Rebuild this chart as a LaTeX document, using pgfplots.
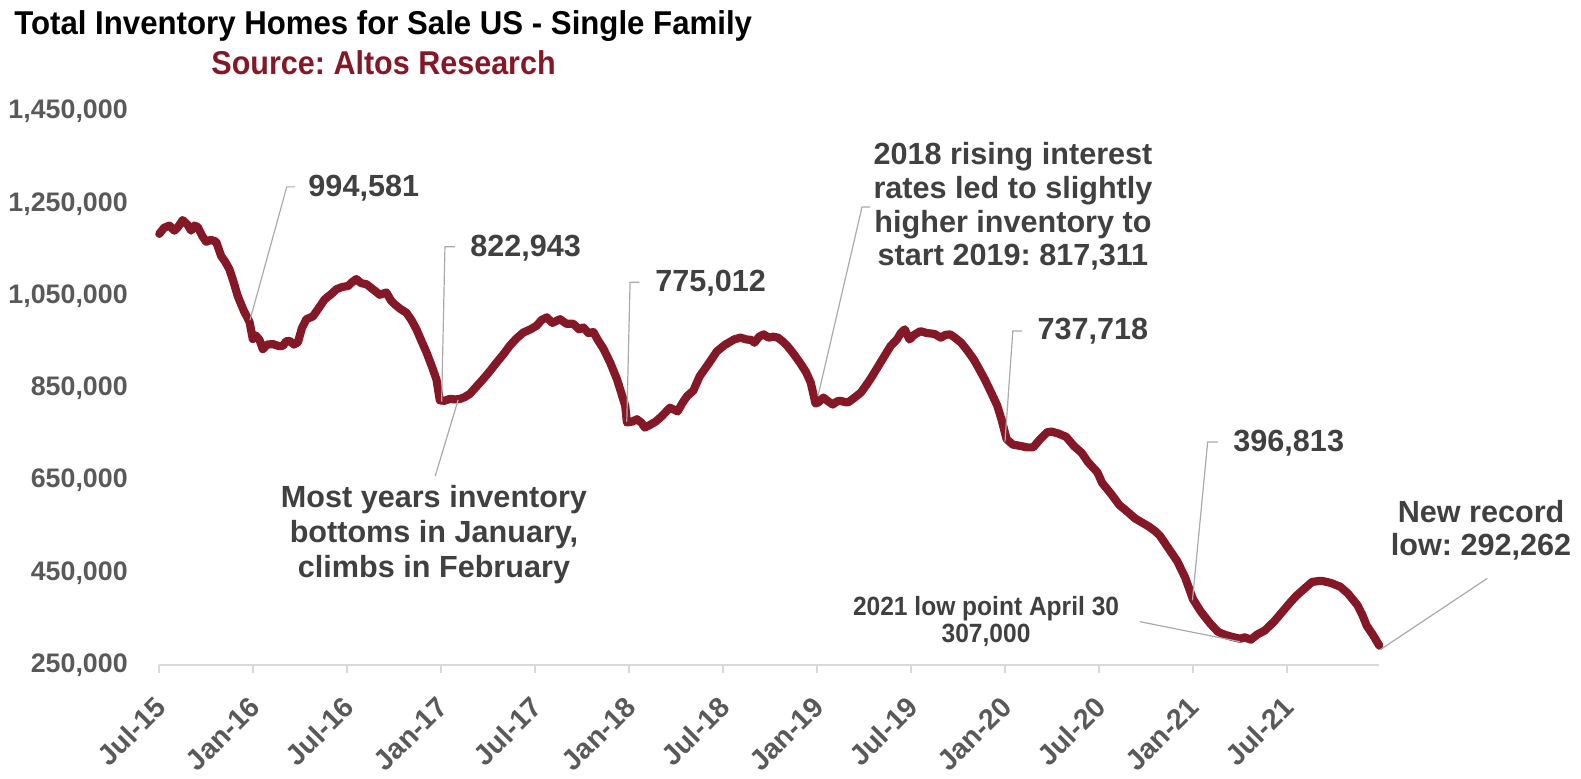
\documentclass[border=0pt]{standalone}
\usepackage{pgfplots}
\usepackage{pgfplotstable}
\pgfplotsset{compat=1.18}
\usepackage{fontspec}
\setmainfont{Liberation Sans}
\newfontfamily\titlefont[FakeStretch=0.945]{Liberation Sans Bold}
\newfontfamily\subfont[FakeStretch=0.925]{Liberation Sans Bold}
\newfontfamily\annfont{Liberation Sans Bold}
\newfontfamily\condfont[FakeStretch=0.93]{Liberation Sans Bold}
\newfontfamily\tickfont{Liberation Sans Bold}
\definecolor{inv}{RGB}{132,24,38}
\definecolor{annot}{RGB}{64,64,64}
\definecolor{tickc}{RGB}{89,89,89}
\definecolor{leader}{RGB}{170,170,170}
\definecolor{axisgray}{RGB}{217,217,217}
\tikzset{
  annot/.style={font=\annfont\fontsize{15.3}{16.85}\selectfont, text=annot, inner sep=0pt},
  lead/.style={draw=leader, line width=0.6pt},
}
\frenchspacing

% m = months since Jul 2015, v = homes for sale (thousands)
\pgfplotstableread{
m v
0.0 1185
0.3 1198
0.64 1203
0.96 1192
1.2 1200
1.49 1215
1.8 1205
2.03 1192
2.25 1203
2.45 1200
2.75 1180
2.99 1168
3.3 1172
3.63 1168
3.95 1137
4.2 1125
4.48 1108
4.75 1080
5.01 1050
5.4 1018
5.76 994
5.97 957
6.15 965
6.40 955
6.61 935
6.9 945
7.25 946
7.6 942
7.89 942
8.1 952
8.32 953
8.6 945
8.85 950
9.1 980
9.39 1000
9.81 1006
10.2 1025
10.56 1043
11.0 1055
11.31 1065
11.7 1070
12.05 1072
12.3 1080
12.58 1087
12.9 1078
13.22 1076
13.6 1066
14.08 1053
14.5 1058
14.8 1040
15.04 1032
15.4 1022
15.78 1014
16.1 998
16.42 978
16.75 952
17.06 928
17.4 898
17.7 869
17.91 824
18.2 823
18.55 827
18.9 826
19.19 827
19.5 831
19.83 838
20.2 852
20.68 870
21.1 887
21.54 906
22.0 925
22.39 943
22.8 958
23.24 971
23.7 978
24.1 986
24.4 998
24.74 1004
25.1 992
25.59 1000
26.0 990
26.44 990
26.8 978
27.08 982
27.4 970
27.72 972
28.0 955
28.36 936
28.8 905
29.22 870
29.5 840
29.75 812
29.86 776
30.2 778
30.5 783
30.8 775
31.0 765
31.3 770
31.7 778
32.1 790
32.6 808
33.1 800
33.4 818
33.7 833
34.1 845
34.5 876
35.0 900
35.6 930
36.1 944
36.7 956
37.1 960
37.5 956
37.8 955
38.0 949
38.3 962
38.6 967
38.9 960
39.2 962
39.5 960
39.8 952
40.1 942
40.5 925
40.9 906
41.3 885
41.6 862
41.9 817
42.1 820
42.4 830
42.7 822
43.0 815
43.3 822
43.5 823
43.8 820
44.0 820
44.4 830
44.8 841
45.1 855
45.4 870
45.8 892
46.3 920
46.7 942
47.1 956
47.35 970
47.6 978
47.9 956
48.2 966
48.6 974
49.0 970
49.5 968
49.9 960
50.2 966
50.5 967
50.8 960
51.2 949
51.6 932
52.0 913
52.3 895
52.7 870
53.1 842
53.5 813
53.8 780
54.1 740
54.5 728
55.0 725
55.4 722
55.8 722
56.2 738
56.7 755
57.0 756
57.4 752
57.9 745
58.4 725
58.9 710
59.3 690
59.9 668
60.2 645
60.8 620
61.3 597
61.8 583
62.3 568
62.8 558
63.2 550
63.6 540
63.9 530
64.4 505
65.0 475
65.5 440
66.0 393
66.5 366
67.1 340
67.6 322
68.0 316
68.5 311
69.0 307
69.3 310
69.7 305
70.1 316
70.6 325
71.2 345
71.7 365
72.2 385
72.6 400
73.1 415
73.6 430
74.0 432
74.3 432
74.8 428
75.4 420
75.9 405
76.5 380
76.8 360
77.1 335
77.5 315
77.9 292
}\invdata

\begin{document}
\begin{tikzpicture}
\path[use as bounding box] (0,0) rectangle (790.5pt,389pt);
\node[anchor=base west, inner sep=0, font=\titlefont\fontsize{16.5}{20}\selectfont, text=black] at (7pt,371.5pt) {Total Inventory Homes for Sale US - Single Family};
\node[anchor=base west, inner sep=0, font=\subfont\fontsize{16.5}{20}\selectfont, text=inv] at (105.5pt,351.5pt) {Source: Altos Research};
\begin{axis}[
  at={(79.65pt,56.5pt)}, anchor=south west,
  scale only axis, width=610pt, height=276.65pt,
  xmin=0, xmax=77.9, ymin=250, ymax=1450,
  clip=false,
  axis x line*=bottom, axis y line*=left,
  x axis line style={draw=axisgray, line width=1pt},
  y axis line style={draw=none},
  xtick={0,6,...,72},
  xticklabels={Jul-15,Jan-16,Jul-16,Jan-17,Jul-17,Jan-18,Jul-18,Jan-19,Jul-19,Jan-20,Jul-20,Jan-21,Jul-21},
  ytick={250,450,650,850,1050,1250,1450},
  yticklabels={{250,000},{450,000},{650,000},{850,000},{1,050,000},{1,250,000},{1,450,000}},
  tick align=outside,
  major tick length=4pt,
  xtick style={draw=axisgray, line width=1pt},
  ytick style={draw=none},
  ticklabel style={font=\tickfont\fontsize{13.4}{16}\selectfont, text=tickc},
  yticklabel style={anchor=east, inner sep=0pt, xshift=-11.6pt},
  xticklabel style={font=\tickfont\fontsize{14.2}{16}\selectfont, inner sep=0pt, xshift=0.8pt, yshift=-14.5pt, rotate=45, anchor=east},
]
\addplot[color=inv, line width=4.1pt, line join=round, line cap=round] table[x=m,y=v] {\invdata};

\draw[lead] (axis cs:5.79,998) -- (axis cs:8.14,1287) -- (axis cs:8.67,1287);
\node[annot, anchor=west] at (axis cs:9.5,1284.5) {994,581};

\draw[lead] (axis cs:18.03,821) -- (axis cs:18.24,1157) -- (axis cs:18.88,1157);
\node[annot, anchor=west] at (axis cs:19.84,1153.7) {822,943};

\draw[lead] (axis cs:29.85,777.6) -- (axis cs:30.06,1080) -- (axis cs:30.65,1080);
\node[annot, anchor=west] at (axis cs:31.65,1078.4) {775,012};

\draw[lead] (axis cs:54.0,734.3) -- (axis cs:54.5,974.3) -- (axis cs:55.07,974.3);
\node[annot, anchor=west] at (axis cs:56.05,974.3) {737,718};

\draw[lead] (axis cs:65.97,390.3) -- (axis cs:66.94,733.6) -- (axis cs:67.6,733.6);
\node[annot, anchor=west] at (axis cs:68.56,732.1) {396,813};

\draw[lead] (axis cs:42.06,833.4) -- (axis cs:44.87,1243.3) -- (axis cs:45.38,1243.3);
\node[annot, align=center] at (axis cs:54.51,1244.3) {2018 rising interest\\rates led to slightly\\higher inventory to\\start 2019: 817,311};

\draw[lead] (axis cs:17.62,659.9) -- (axis cs:19.08,824.7);
\node[annot, align=center, font=\annfont\fontsize{15.3}{17.5}\selectfont] at (axis cs:17.54,531.9) {Most years inventory\\bottoms in January,\\climbs in February};

\draw[lead] (axis cs:77.98,283.6) -- (axis cs:84.8,438);
\node[annot, align=center, font=\annfont\fontsize{15.3}{16.5}\selectfont] at (axis cs:84.4,541.7) {New record\\low: 292,262};

\draw[lead] (axis cs:62.62,343.9) -- (axis cs:69.0,300.5);
\node[annot, align=center, font=\condfont\fontsize{13.2}{13.5}\selectfont] at (axis cs:52.79,344.3) {2021 low point April 30\\307,000};
\end{axis}
\end{tikzpicture}
\end{document}
